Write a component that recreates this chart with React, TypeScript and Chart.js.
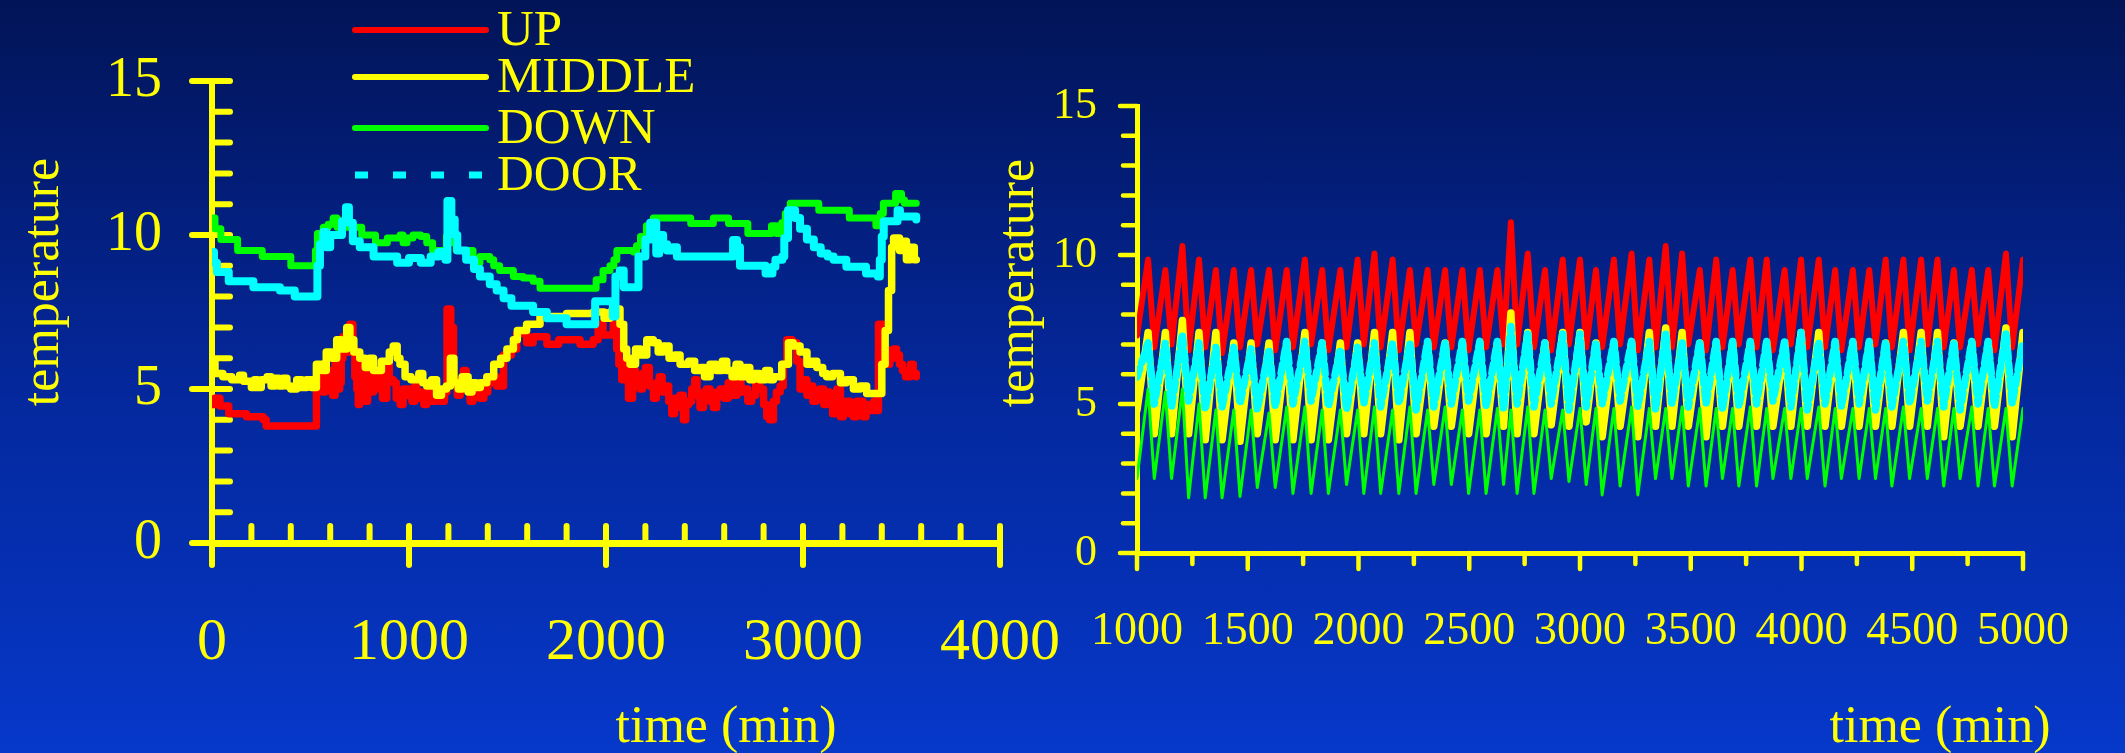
import React, { useEffect, useRef } from "react";
import { Chart, registerables } from "chart.js";

Chart.register(...registerables);

const FONT = "'Liberation Serif', 'Times New Roman', Times, serif";
const YELLOW = "#ffff00";

const seriesLabels = ["UP", "MIDDLE", "DOWN", "DOOR"];
const seriesColors = ["#ff0000", "#ffff00", "#00ff00", "#00ffff"];

const leftXTicks = [0, 1000, 2000, 3000, 4000];
const leftYTicks = [0, 5, 10, 15];
const rightXTicks = [1000, 1500, 2000, 2500, 3000, 3500, 4000, 4500, 5000];
const rightYTicks = [0, 5, 10, 15];

type Pt = [number, number];

// ---- left panel: [time (min), temperature] ----
const leftUp: Pt[] = [
  [0, 4.5], [15, 4.7], [40, 4.45], [85, 4.2], [175, 4.1], [260, 4.0], [275, 3.8], [530, 5.2], [545, 5.4], [560, 4.9],
  [575, 5.5], [590, 5.2], [600, 5.6], [612, 4.8], [625, 5.9], [638, 5.0], [648, 5.2], [656, 6.0], [665, 6.7], [680, 6.2],
  [700, 7.1], [715, 6.3], [725, 5.4], [735, 5.0], [742, 4.5], [750, 5.8], [765, 5.3], [778, 4.6], [790, 5.1], [800, 5.5],
  [810, 4.9], [820, 5.2], [835, 5.6], [850, 5.0], [865, 4.7], [887, 5.9], [900, 5.3], [920, 5.2], [935, 4.7], [955, 4.5],
  [970, 5.0], [985, 4.8], [1000, 5.0], [1015, 4.6], [1030, 5.1], [1040, 4.7], [1060, 4.9], [1075, 4.5], [1090, 4.6], [1110, 5.0],
  [1125, 4.6], [1140, 4.8], [1160, 4.6], [1180, 4.9], [1193, 7.6], [1212, 7.0], [1226, 5.2], [1245, 4.8], [1260, 5.3], [1276, 5.6],
  [1290, 5.0], [1310, 4.6], [1325, 5.1], [1340, 5.0], [1360, 4.7], [1380, 4.9], [1400, 5.2], [1420, 5.4], [1445, 5.1], [1480, 6.1],
  [1520, 6.3], [1547, 6.8], [1597, 6.5], [1630, 6.7], [1700, 6.45], [1760, 6.6], [1868, 6.45], [1935, 6.6], [1960, 7.1], [1985, 6.75],
  [2037, 7.1], [2054, 6.3], [2065, 5.8], [2080, 5.3], [2095, 5.9], [2114, 4.7], [2135, 5.6], [2150, 5.2], [2173, 5.0], [2185, 5.5],
  [2200, 5.7], [2220, 5.1], [2241, 4.7], [2255, 5.2], [2270, 5.4], [2285, 4.9], [2300, 5.1], [2318, 4.6], [2334, 4.2], [2348, 4.7],
  [2360, 4.4], [2375, 4.8], [2393, 4.0], [2405, 4.5], [2420, 4.6], [2435, 5.0], [2450, 5.3], [2462, 4.8], [2477, 4.4], [2495, 4.9],
  [2510, 5.0], [2528, 4.6], [2545, 4.4], [2562, 4.9], [2580, 5.0], [2600, 4.7], [2620, 5.2], [2645, 4.8], [2665, 5.3], [2685, 4.9],
  [2700, 5.0], [2720, 4.6], [2740, 4.8], [2760, 5.2], [2780, 5.0], [2800, 4.5], [2816, 4.1], [2830, 4.0], [2850, 4.6], [2865, 4.9],
  [2884, 5.1], [2900, 5.8], [2918, 6.6], [2945, 6.5], [2968, 5.9], [2985, 5.0], [3005, 5.3], [3020, 4.8], [3035, 5.1], [3050, 4.6],
  [3068, 4.9], [3086, 5.0], [3105, 4.5], [3120, 4.9], [3135, 4.6], [3150, 4.2], [3172, 5.0], [3190, 4.1], [3205, 4.5], [3220, 4.6],
  [3238, 4.2], [3256, 4.1], [3272, 4.6], [3290, 4.6], [3305, 4.1], [3320, 4.5], [3340, 4.3], [3360, 4.6], [3375, 4.3], [3383, 7.1],
  [3408, 6.3], [3425, 5.8], [3440, 6.0], [3460, 6.3], [3475, 6.1], [3490, 5.8], [3505, 5.6], [3520, 5.4], [3545, 5.8], [3560, 5.5],
  [3575, 5.4],
];

const leftMiddle: Pt[] = [
  [0, 5.9], [15, 5.5], [55, 5.4], [100, 5.3], [140, 5.45], [160, 5.25], [200, 5.05], [215, 5.3], [230, 5.05], [250, 5.3],
  [280, 5.4], [300, 5.1], [320, 5.35], [340, 5.1], [360, 5.35], [380, 5.1], [400, 5.0], [430, 5.3], [455, 5.05], [480, 5.3],
  [505, 5.05], [530, 5.8], [560, 5.6], [580, 6.2], [610, 6.0], [633, 6.6], [655, 6.3], [684, 7.0], [700, 6.6], [720, 6.2],
  [750, 6.0], [778, 5.7], [800, 6.0], [820, 5.6], [860, 5.9], [900, 6.2], [920, 6.4], [940, 6.0], [954, 5.8], [980, 5.4],
  [1010, 5.3], [1050, 5.5], [1070, 5.2], [1090, 5.1], [1115, 5.3], [1140, 4.8], [1165, 5.0], [1190, 5.1], [1210, 6.0], [1228, 5.2],
  [1250, 5.0], [1270, 5.4], [1300, 4.9], [1320, 5.2], [1340, 5.05], [1362, 5.2], [1395, 5.4], [1430, 5.8], [1465, 6.0], [1497, 6.3],
  [1530, 6.6], [1550, 6.9], [1597, 7.1], [1665, 7.35], [1800, 7.45], [1935, 7.5], [1990, 7.3], [2020, 7.5], [2054, 7.6], [2071, 7.1],
  [2090, 6.3], [2105, 6.0], [2122, 5.8], [2150, 6.3], [2175, 6.1], [2207, 6.6], [2240, 6.5], [2265, 6.2], [2290, 6.4], [2320, 6.0],
  [2350, 6.1], [2376, 5.8], [2420, 5.9], [2450, 5.6], [2480, 5.7], [2500, 5.4], [2528, 5.8], [2560, 5.6], [2590, 5.9], [2613, 5.6],
  [2640, 5.4], [2660, 5.8], [2680, 5.4], [2705, 5.7], [2730, 5.3], [2748, 5.5], [2780, 5.3], [2810, 5.6], [2830, 5.3], [2850, 5.4],
  [2892, 5.8], [2926, 6.5], [2950, 6.4], [2985, 6.2], [3020, 5.8], [3045, 5.9], [3070, 5.7], [3100, 5.5], [3120, 5.4], [3150, 5.5],
  [3190, 5.2], [3220, 5.3], [3256, 5.0], [3290, 5.1], [3323, 4.85], [3400, 5.8], [3417, 6.9], [3434, 8.2], [3450, 9.6], [3460, 9.9],
  [3490, 9.5], [3506, 9.8], [3525, 9.2], [3545, 9.6], [3565, 9.2], [3575, 9.2],
];

const leftDown: Pt[] = [
  [0, 10.55], [15, 10.2], [45, 9.85], [130, 9.5], [255, 9.3], [400, 9.0], [525, 9.5], [535, 10.05], [565, 10.25], [590, 10.35],
  [615, 10.55], [635, 10.25], [650, 10.45], [675, 10.25], [760, 10.0], [830, 9.75], [890, 9.9], [955, 10.0], [970, 9.75], [990, 9.9],
  [1020, 10.0], [1060, 9.95], [1090, 9.75], [1120, 9.5], [1190, 9.95], [1205, 9.75], [1240, 9.5], [1325, 9.1], [1360, 9.3], [1410, 9.2],
  [1430, 9.0], [1460, 8.85], [1530, 8.65], [1580, 8.6], [1630, 8.5], [1665, 8.27], [1935, 8.27], [1950, 8.55], [1985, 8.85], [2020, 9.0],
  [2040, 9.2], [2055, 9.5], [2140, 9.45], [2155, 9.65], [2175, 9.95], [2205, 10.3], [2240, 10.55], [2430, 10.37], [2545, 10.55], [2622, 10.37],
  [2720, 10.05], [2840, 10.3], [2866, 10.05], [2892, 10.4], [2910, 10.7], [2935, 11.03], [3080, 10.8], [3235, 10.55], [3370, 10.3], [3392, 10.7],
  [3408, 11.03], [3470, 11.35], [3500, 11.14], [3515, 11.03], [3575, 11.03],
];

const leftDoor: Pt[] = [
  [0, 9.45], [10, 9.1], [25, 8.8], [85, 8.5], [210, 8.3], [345, 8.2], [420, 8.0], [535, 9.0], [548, 9.7], [565, 10.1],
  [580, 9.6], [600, 10.0], [660, 10.45], [680, 10.9], [695, 10.4], [715, 9.8], [750, 9.6], [820, 9.3], [940, 9.1], [1000, 9.25],
  [1060, 9.1], [1110, 9.3], [1150, 9.45], [1185, 9.2], [1195, 11.1], [1215, 10.5], [1232, 10.0], [1245, 9.5], [1290, 9.2], [1330, 8.9],
  [1360, 8.65], [1410, 8.4], [1445, 8.2], [1480, 7.95], [1520, 7.7], [1630, 7.5], [1700, 7.3], [1800, 7.1], [1935, 7.1], [1945, 7.85],
  [2035, 7.35], [2048, 8.65], [2070, 8.85], [2090, 8.3], [2165, 9.3], [2200, 9.85], [2224, 10.4], [2255, 9.4], [2270, 10.0], [2290, 9.7],
  [2310, 9.5], [2340, 9.6], [2360, 9.3], [2645, 9.84], [2665, 9.6], [2680, 9.0], [2810, 8.75], [2845, 8.97], [2860, 9.2], [2895, 9.3],
  [2905, 9.9], [2924, 10.8], [2960, 10.55], [2985, 10.2], [3020, 9.85], [3055, 9.6], [3090, 9.4], [3125, 9.3], [3155, 9.2], [3220, 8.97],
  [3320, 8.75], [3380, 8.65], [3390, 9.2], [3400, 9.95], [3410, 10.45], [3470, 10.45], [3480, 10.8], [3492, 10.6], [3575, 10.5],
];

// ---- right panel: cycle peak / trough readings ----
const rightStartTime = 1000;
const rightPeakTimes = [
  1050, 1128, 1205, 1280, 1356, 1437, 1515, 1596, 1676, 1758,
  1836, 1918, 1996, 2072, 2154, 2232, 2312, 2391, 2469, 2548,
  2627, 2688, 2764, 2842, 2922, 3000, 3072, 3153, 3233, 3313,
  3387, 3461, 3541, 3615, 3689, 3769, 3843, 3924, 3998, 4078,
  4152, 4232, 4306, 4380, 4460, 4540, 4614, 4688, 4769, 4843,
  4923, 5000,
];
const rightTroughTimes = [
  1078, 1156, 1233, 1308, 1384, 1465, 1543, 1624, 1704, 1786,
  1864, 1946, 2024, 2100, 2182, 2260, 2340, 2419, 2497, 2576,
  2655, 2716, 2792, 2870, 2950, 3028, 3100, 3181, 3261, 3341,
  3415, 3489, 3569, 3643, 3717, 3797, 3871, 3952, 4026, 4106,
  4180, 4260, 4334, 4408, 4488, 4568, 4642, 4716, 4797, 4871,
  4951,
];

const rightUpStart = 7.3;
const rightUpPeaks = [
  9.85, 9.5, 10.3, 9.85, 9.5, 9.5, 9.5, 9.5, 9.5, 9.85,
  9.5, 9.5, 9.85, 10.05, 9.85, 9.5, 9.5, 9.5, 9.5, 9.5,
  9.5, 11.1, 10.05, 9.5, 9.85, 9.85, 9.5, 9.85, 10.05, 9.85,
  10.3, 10.05, 9.5, 9.85, 9.5, 9.85, 9.85, 9.5, 9.85, 9.85,
  9.5, 9.5, 9.5, 9.85, 9.85, 9.85, 9.85, 9.5, 9.5, 9.5,
  10.05, 9.85,
];
const rightUpTroughs = [
  6.9, 7.0, 6.8, 6.9, 6.7, 6.9, 7.0, 6.8, 6.9, 7.0,
  6.8, 6.9, 7.0, 6.9, 6.8, 7.0, 6.9, 6.9, 6.8, 6.9,
  7.0, 7.0, 6.9, 6.8, 7.0, 6.9, 6.9, 7.0, 6.8, 6.9,
  6.9, 7.0, 6.8, 6.9, 7.0, 6.9, 6.8, 7.0, 6.9, 6.9,
  6.8, 6.9, 7.0, 6.9, 6.8, 7.0, 6.9, 6.9, 7.0, 6.8,
  6.9,
];

const rightMiddleStart = 4.8;
const rightMiddlePeaks = [
  7.4, 7.4, 7.8, 7.4, 7.4, 7.05, 7.05, 7.05, 7.05, 7.4,
  7.05, 7.05, 7.05, 7.4, 7.4, 7.4, 7.05, 7.05, 7.05, 7.05,
  7.05, 8.05, 7.4, 7.05, 7.4, 7.4, 7.05, 7.05, 7.05, 7.4,
  7.55, 7.4, 7.05, 7.05, 7.05, 7.05, 7.05, 7.05, 7.4, 7.4,
  7.05, 7.05, 7.05, 7.05, 7.4, 7.4, 7.4, 7.05, 7.05, 7.05,
  7.55, 7.4,
];
const rightMiddleTroughs = [
  4.0, 4.0, 4.0, 3.8, 3.8, 3.75, 4.0, 3.8, 3.8, 3.8,
  3.8, 4.0, 4.0, 4.0, 3.8, 4.0, 4.25, 4.25, 4.0, 4.0,
  4.25, 4.0, 4.0, 4.3, 4.25, 4.4, 3.9, 4.25, 3.9, 4.25,
  4.25, 4.25, 3.9, 4.25, 4.25, 4.25, 4.25, 4.25, 4.25, 4.25,
  4.25, 4.25, 4.25, 4.25, 4.25, 4.25, 3.9, 4.25, 4.25, 4.25,
  3.9,
];

const rightDownStart = 2.5;
const rightDownPeaks = [
  5.5, 5.4, 5.5, 5.0, 4.8, 4.8, 4.8, 4.7, 4.9, 4.9,
  4.8, 4.8, 4.8, 4.9, 4.8, 4.9, 4.8, 4.9, 4.8, 4.8,
  4.85, 4.8, 4.9, 4.8, 4.8, 4.85, 4.85, 4.85, 4.9, 4.85,
  4.85, 4.9, 4.85, 4.85, 4.85, 4.9, 4.85, 4.85, 4.85, 4.9,
  4.85, 4.85, 4.85, 4.85, 4.9, 4.85, 4.85, 4.85, 4.9, 4.85,
  4.85, 4.85,
];
const rightDownTroughs = [
  2.5, 2.5, 1.85, 1.85, 1.85, 1.9, 2.2, 2.2, 2.0, 2.0,
  2.0, 2.3, 2.0, 2.0, 2.0, 2.0, 2.3, 2.3, 2.0, 2.0,
  2.3, 2.0, 2.0, 2.5, 2.4, 2.3, 1.95, 2.25, 1.95, 2.5,
  2.5, 2.25, 2.25, 2.5, 2.25, 2.25, 2.5, 2.5, 2.5, 2.25,
  2.5, 2.5, 2.5, 2.25, 2.5, 2.5, 2.25, 2.5, 2.25, 2.25,
  2.25,
];

const rightDoorStart = 5.9;
const rightDoorPeaks = [
  7.05, 7.05, 7.35, 7.05, 6.9, 6.9, 6.85, 6.85, 7.1, 7.1,
  7.05, 6.85, 6.9, 7.05, 7.05, 7.05, 7.1, 7.1, 7.1, 7.1,
  7.1, 7.6, 7.35, 7.05, 7.35, 7.35, 7.1, 7.1, 7.1, 7.1,
  7.4, 7.1, 7.1, 7.1, 7.1, 7.1, 7.1, 7.1, 7.4, 7.1,
  7.1, 7.1, 7.1, 7.1, 7.1, 7.1, 7.1, 7.1, 7.1, 7.1,
  7.4, 7.1,
];
const rightDoorTroughs = [
  5.0, 4.9, 5.1, 4.8, 4.9, 5.0, 4.8, 4.9, 5.0, 5.1,
  4.9, 4.8, 5.0, 4.9, 5.0, 4.8, 4.9, 5.0, 5.1, 4.9,
  4.8, 5.0, 4.9, 5.0, 4.8, 4.9, 5.0, 5.1, 4.9, 4.8,
  5.0, 4.9, 5.0, 4.8, 4.9, 5.0, 5.1, 4.9, 4.8, 5.0,
  4.9, 5.0, 4.8, 4.9, 5.0, 5.1, 4.9, 4.8, 5.0, 4.9,
  5.0,
];

const legendDashes: number[][] = [[], [], [], [13, 25]];

function toXY(pairs: Pt[]) {
  return pairs.map(([x, y]) => ({ x, y }));
}

function cycleSeries(start: number, peaks: number[], troughs: number[]) {
  const pts = [{ x: rightStartTime, y: start }];
  for (let i = 0; i < peaks.length; i++) {
    pts.push({ x: rightPeakTimes[i], y: peaks[i] });
    if (i < troughs.length) pts.push({ x: rightTroughTimes[i], y: troughs[i] });
  }
  return pts;
}

const decorPlugin = {
  id: "decor",
  beforeDatasetsDraw(chart: any, _args: any, o: any) {
    const ctx = chart.ctx;
    const xs = chart.scales.x;
    const ys = chart.scales.y;
    const ax = chart.chartArea.left;
    const ay = chart.chartArea.bottom;
    ctx.save();
    ctx.strokeStyle = o.color;
    ctx.lineCap = "round";
    ctx.lineWidth = o.tickWidth;
    const seg = (x1: number, y1: number, x2: number, y2: number) => {
      ctx.beginPath();
      ctx.moveTo(x1, y1);
      ctx.lineTo(x2, y2);
      ctx.stroke();
    };
    for (let v = xs.min; v <= xs.max + 1e-6; v += o.xMinorStep) {
      const px = xs.getPixelForValue(v);
      const major = o.xMajor.includes(v);
      seg(px, ay - (major ? o.xMajorIn : o.xMinorIn), px, ay + (major ? o.xMajorOut : o.xMinorOut));
    }
    for (let v = ys.min; v <= ys.max + 1e-6; v += o.yMinorStep) {
      const py = ys.getPixelForValue(v);
      const major = o.yMajor.includes(v);
      seg(ax - (major ? o.yMajorOut : o.yMinorOut), py, ax + (major ? o.yMajorIn : o.yMinorIn), py);
    }
    ctx.restore();
  },
  afterDraw(chart: any, _args: any, o: any) {
    const ctx = chart.ctx;
    ctx.save();
    ctx.fillStyle = o.color;
    for (const t of o.titles) {
      ctx.save();
      ctx.font = `${t.size}px ${FONT}`;
      ctx.textAlign = "center";
      ctx.textBaseline = "alphabetic";
      ctx.translate(t.x, t.y);
      if (t.rotate) ctx.rotate(-Math.PI / 2);
      ctx.fillText(t.text, 0, 0);
      ctx.restore();
    }
    const L = o.legend;
    if (L) {
      chart.data.datasets.forEach((ds: any, i: number) => {
        const y = L.rows[i];
        ctx.save();
        ctx.strokeStyle = ds.borderColor;
        const dash = legendDashes[i];
        ctx.lineWidth = dash.length ? L.dashWidth : L.lineWidth;
        ctx.setLineDash(dash);
        ctx.lineCap = dash.length ? "butt" : "round";
        ctx.beginPath();
        ctx.moveTo(L.x0, y);
        ctx.lineTo(L.x1, y);
        ctx.stroke();
        ctx.restore();
        ctx.font = `${L.size}px ${FONT}`;
        ctx.textAlign = "left";
        ctx.textBaseline = "alphabetic";
        ctx.fillStyle = o.color;
        ctx.fillText(ds.label, L.textX, y + L.baseline);
      });
    }
    ctx.restore();
  },
};

function makeScales(cfg: any) {
  return {
    x: {
      type: "linear",
      min: cfg.xMin,
      max: cfg.xMax,
      afterBuildTicks: (s: any) => {
        s.ticks = cfg.xTicks.map((v: number) => ({ value: v }));
      },
      afterFit: (s: any) => {
        s.height = cfg.xHeight;
      },
      ticks: {
        color: YELLOW,
        font: { family: FONT, size: cfg.xFont, lineHeight: 1 },
        padding: cfg.xPad,
        maxRotation: 0,
        minRotation: 0,
        autoSkip: false,
        callback: (v: any) => String(v),
      },
      grid: { display: false, drawTicks: false },
      border: { display: true, color: YELLOW, width: cfg.xBorder },
    },
    y: {
      type: "linear",
      min: 0,
      max: 15,
      afterBuildTicks: (s: any) => {
        s.ticks = cfg.yTicks.map((v: number) => ({ value: v }));
      },
      afterFit: (s: any) => {
        s.width = cfg.yWidth;
      },
      ticks: {
        color: YELLOW,
        font: { family: FONT, size: cfg.yFont, lineHeight: 1 },
        padding: cfg.yPad,
        autoSkip: false,
        callback: (v: any) => String(v),
      },
      grid: { display: false, drawTicks: false },
      border: { display: true, color: YELLOW, width: cfg.yBorder },
    },
  };
}

function leftConfig(): any {
  const data = [leftUp, leftMiddle, leftDown, leftDoor];
  const widths = [7.5, 7.5, 7, 8];
  return {
    type: "line",
    data: {
      datasets: data.map((d, i) => ({
        label: seriesLabels[i],
        data: toXY(d),
        borderColor: seriesColors[i],
        backgroundColor: seriesColors[i],
        borderWidth: widths[i],
        stepped: true,
        order: 3 - i,
        pointRadius: 0,
        fill: false,
      })),
    },
    options: {
      animation: false,
      responsive: false,
      devicePixelRatio: 1,
      events: [],
      layout: { padding: { left: 0, top: 81, right: 1125, bottom: 0 } },
      elements: { line: { borderJoinStyle: "round", borderCapStyle: "round", tension: 0 }, point: { radius: 0 } },
      plugins: {
        legend: { display: false },
        tooltip: { enabled: false },
        decor: {
          color: YELLOW,
          tickWidth: 6,
          xMinorStep: 200,
          xMajor: leftXTicks,
          xMinorIn: 17,
          xMinorOut: 0,
          xMajorIn: 17,
          xMajorOut: 22,
          yMinorStep: 1,
          yMajor: leftYTicks,
          yMinorIn: 18,
          yMinorOut: 0,
          yMajorIn: 18,
          yMajorOut: 20,
          titles: [
            { text: "temperature", x: 58, y: 282, rotate: true, size: 52 },
            { text: "time (min)", x: 726, y: 742, rotate: false, size: 52 },
          ],
          legend: {
            rows: [30, 77, 128, 175],
            x0: 355,
            x1: 486,
            textX: 497,
            baseline: 15,
            size: 51,
            lineWidth: 6,
            dashWidth: 7,
          },
        },
      },
      scales: makeScales({
        xMin: 0,
        xMax: 4000,
        xTicks: leftXTicks,
        xHeight: 210,
        xFont: 60,
        xPad: 70,
        xBorder: 7,
        yTicks: leftYTicks,
        yWidth: 212,
        yFont: 56,
        yPad: 50,
        yBorder: 6,
      }),
    },
    plugins: [decorPlugin],
  };
}

function rightConfig(): any {
  const data = [
    cycleSeries(rightUpStart, rightUpPeaks, rightUpTroughs),
    cycleSeries(rightMiddleStart, rightMiddlePeaks, rightMiddleTroughs),
    cycleSeries(rightDownStart, rightDownPeaks, rightDownTroughs),
    cycleSeries(rightDoorStart, rightDoorPeaks, rightDoorTroughs),
  ];
  const widths = [6, 7.5, 3, 7.5];
  return {
    type: "line",
    data: {
      datasets: data.map((d, i) => ({
        label: seriesLabels[i],
        data: d,
        borderColor: seriesColors[i],
        backgroundColor: seriesColors[i],
        borderWidth: widths[i],
        borderDash: i === 3 ? [9, 6] : [],
        order: 3 - i,
        pointRadius: 0,
        fill: false,
      })),
    },
    options: {
      animation: false,
      responsive: false,
      devicePixelRatio: 1,
      events: [],
      layout: { padding: { left: 0, top: 106, right: 60, bottom: 0 } },
      elements: { line: { borderJoinStyle: "round", borderCapStyle: "round", tension: 0 }, point: { radius: 0 } },
      plugins: {
        legend: { display: false },
        tooltip: { enabled: false },
        decor: {
          color: YELLOW,
          tickWidth: 4.5,
          xMinorStep: 250,
          xMajor: rightXTicks,
          xMinorIn: 0,
          xMinorOut: 11,
          xMajorIn: 0,
          xMajorOut: 16,
          yMinorStep: 1,
          yMajor: rightYTicks,
          yMinorIn: 0,
          yMinorOut: 14,
          yMajorIn: 0,
          yMajorOut: 17,
          titles: [
            { text: "temperature", x: 1033, y: 283, rotate: true, size: 52 },
            { text: "time (min)", x: 1940, y: 742, rotate: false, size: 52 },
          ],
        },
      },
      scales: makeScales({
        xMin: 1000,
        xMax: 5000,
        xTicks: rightXTicks,
        xHeight: 200,
        xFont: 46,
        xPad: 56,
        xBorder: 5,
        yTicks: rightYTicks,
        yWidth: 1137,
        yFont: 44,
        yPad: 40,
        yBorder: 5,
      }),
    },
    plugins: [decorPlugin],
  };
}

export default function App() {
  const leftRef = useRef<HTMLCanvasElement>(null);
  const rightRef = useRef<HTMLCanvasElement>(null);

  useEffect(() => {
    const c1 = new Chart(leftRef.current as HTMLCanvasElement, leftConfig());
    const c2 = new Chart(rightRef.current as HTMLCanvasElement, rightConfig());
    return () => {
      c1.destroy();
      c2.destroy();
    };
  }, []);

  const canvasStyle: React.CSSProperties = {
    position: "absolute",
    left: 0,
    top: 0,
    width: 2125,
    height: 753,
  };

  return (
    <div
      style={{
        position: "absolute",
        left: 0,
        top: 0,
        width: 2125,
        height: 753,
        overflow: "hidden",
        background: "linear-gradient(to bottom, #021457 0%, #04279a 50%, #0638ca 100%)",
      }}
    >
      <canvas ref={leftRef} width={2125} height={753} style={canvasStyle} />
      <canvas ref={rightRef} width={2125} height={753} style={canvasStyle} />
    </div>
  );
}
